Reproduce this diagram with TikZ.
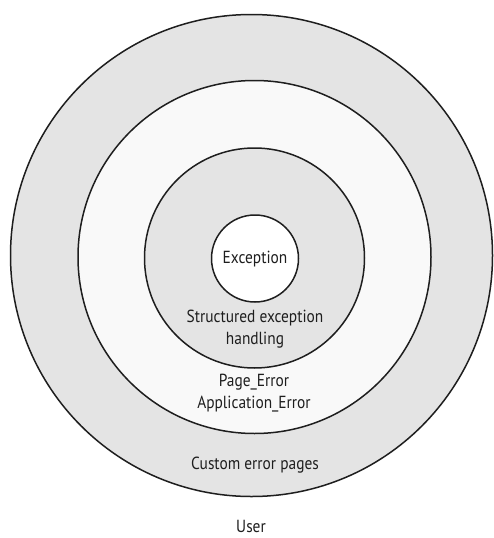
\documentclass[tikz,border=0pt]{standalone}
\usepackage{fontspec}
\setmainfont{PT Sans}
\definecolor{ringgray}{HTML}{E4E4E4}
\definecolor{ringwhite}{HTML}{F9F9F9}
\definecolor{inkcol}{HTML}{1E1E1E}
\begin{document}
\begin{tikzpicture}[x=1pt,y=-1pt,
  ring/.style={draw=inkcol,line width=1.5pt},
  lbl/.style={text=inkcol,font=\fontsize{17.5}{22.5}\selectfont,xscale=0.88,align=center,inner sep=0pt}]
\useasboundingbox[fill=white] (0,0) rectangle (494,538);
\path[ring,fill=ringgray] (251.5,255.5) circle[radius=241] coordinate (c1);
\path[ring,fill=ringwhite] (254.5,257) circle[radius=176.5] coordinate (c2);
\path[ring,fill=ringgray] (254.5,258) circle[radius=110] coordinate (c3);
\path[ring,fill=white] (255,258.5) circle[radius=43.5] coordinate (c4);
\node[lbl] (exc) at (255,259) {Exception};
\node[lbl] (seh) at (255,329) {Structured exception\\handling};
\node[lbl] (pe) at (254,393) {Page\_Error\\Application\_Error};
\node[lbl] (cep) at (255,465) {Custom error pages};
\node[lbl] (usr) at (251,526) {User};
\end{tikzpicture}
\end{document}
